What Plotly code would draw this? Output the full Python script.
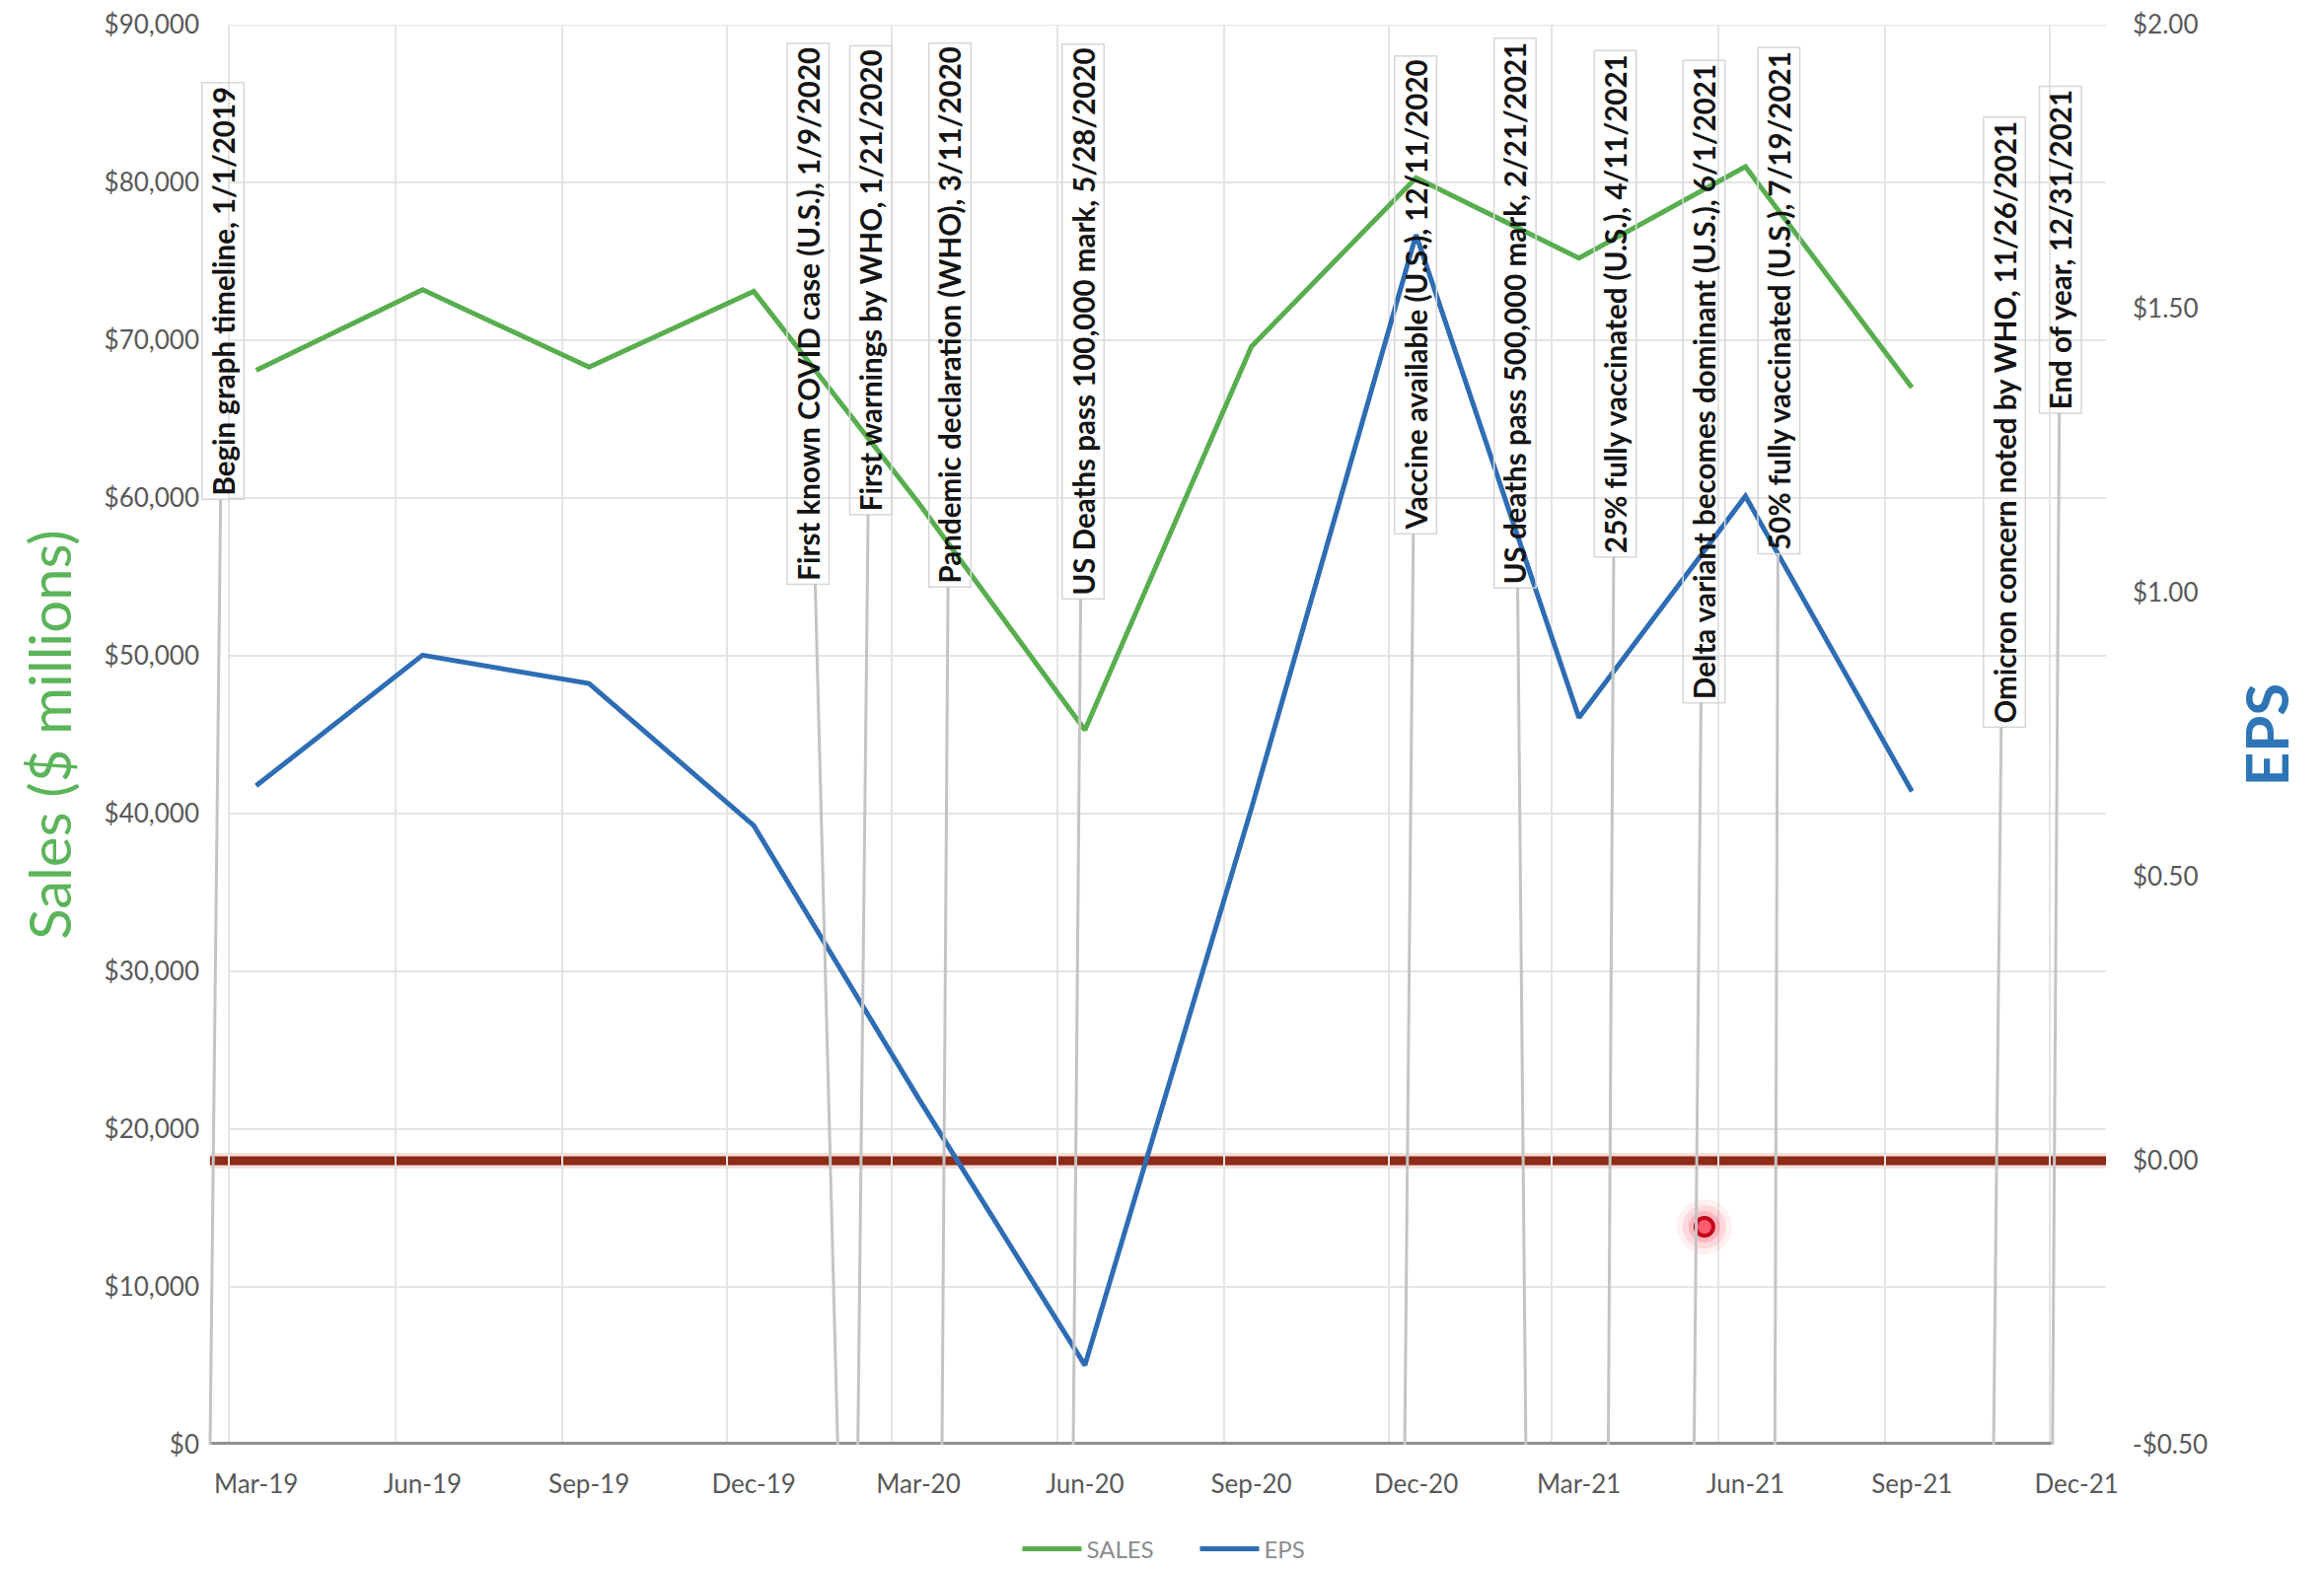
import pandas as pd
import plotly.graph_objects as go

# ---- quarterly results -------------------------------------------------
quarters = ["Mar-19", "Jun-19", "Sep-19", "Dec-19", "Mar-20", "Jun-20",
            "Sep-20", "Dec-20", "Mar-21", "Jun-21", "Sep-21"]
sales = [68100, 73200, 68300, 73100, 59700, 45300,
         69600, 80300, 75200, 81000, 67000]          # $ millions
eps = [0.66, 0.89, 0.84, 0.59, 0.11, -0.36,
       0.62, 1.63, 0.78, 1.17, 0.65]                 # $ per share

axis_quarters = quarters + ["Dec-21"]

sales_ticks = [0, 10000, 20000, 30000, 40000, 50000, 60000, 70000, 80000, 90000]
eps_ticks = [-0.5, 0.0, 0.5, 1.0, 1.5, 2.0]

# ---- COVID timeline events ----------------------------------------------
event_names = [
    "Begin graph timeline",
    "First known COVID case (U.S.)",
    "First warnings by WHO",
    "Pandemic declaration (WHO)",
    "US Deaths pass 100,000 mark",
    "Vaccine available (U.S.)",
    "US deaths pass 500,000 mark",
    "25% fully vaccinated (U.S.)",
    "Delta variant becomes dominant (U.S.)",
    "50% fully vaccinated (U.S.)",
    "Omicron concern noted by WHO",
    "End of year",
]
event_dates = ["1/1/2019", "1/9/2020", "1/21/2020", "3/11/2020", "5/28/2020",
               "12/11/2020", "2/21/2021", "4/11/2021", "6/1/2021", "7/19/2021",
               "11/26/2021", "12/31/2021"]
event_level = [0] * len(event_names)

# ---- derived positions ----------------------------------------------------
# each quarter label sits in the middle of its month slot
month_start = pd.to_datetime(axis_quarters, format="%b-%y")
slot_mid = month_start + pd.Timedelta(days=15)
q_dates = slot_mid[:len(quarters)]
grid_dates = list(month_start) + [pd.Timestamp("2022-01-01")]
ev_dates = pd.to_datetime(event_dates, format="%m/%d/%Y")

X_RANGE = ["2019-02-18 14:00", "2022-01-01 06:00"]
X2_RANGE = ["2019-01-01", "2022-01-31 19:12"]

FONT = "Lato"
GREEN = "#58AE4E"
BLUE = "#2E6DB4"
TICK = "#595959"
GRID = "#e4e4e4"

fig = go.Figure()

# timeline baseline connecting all the events
fig.add_trace(go.Scatter(
    x=ev_dates, y=event_level, xaxis="x2", yaxis="y", mode="lines",
    line=dict(color="#8f8f8f", width=6), showlegend=False, hoverinfo="skip"))

fig.add_trace(go.Scatter(
    x=q_dates, y=sales, name="SALES", mode="lines",
    line=dict(color=GREEN, width=5), xaxis="x", yaxis="y"))

fig.add_trace(go.Scatter(
    x=q_dates, y=eps, name="EPS", mode="lines",
    line=dict(color=BLUE, width=5), xaxis="x", yaxis="y2"))

# pixel offsets of each event call-out box from its date on the baseline
label_dx = [13, -30, 13, 8, 10, 11, -11, 7, 10, 4, 11, 8]
label_dy = [-1170, -1147, -1181, -1146, -1139, -1166, -1148, -1157, -1078, -1160, -1037, -1212]

annotations = []
for name, d_str, d, lvl, dx, dy in zip(event_names, event_dates, ev_dates,
                                       event_level, label_dx, label_dy):
    annotations.append(dict(
        x=d, y=lvl, xref="x2", yref="y",
        text=f"{name}, {d_str}", textangle=-90,
        showarrow=True, arrowhead=0, arrowwidth=3, arrowcolor="#c4c4c4",
        standoff=0, ax=dx, ay=dy, axref="pixel", ayref="pixel",
        font=dict(family=FONT, size=29.5, color="#141414", weight=700),
        bgcolor="rgba(255,255,255,0)", bordercolor="#d6d6d6",
        borderwidth=1.5, borderpad=3,
    ))

shapes = []
# horizontal sales gridlines, spanning the quarter slots only
for v in sales_ticks[1:]:
    shapes.append(dict(type="line", xref="x", yref="y",
                       x0=month_start[0], x1=X_RANGE[1], y0=v, y1=v,
                       line=dict(color=GRID, width=2), layer="below"))

# EPS break-even line with a soft glow
shapes += [
    dict(type="line", xref="paper", x0=0, x1=1, yref="y2", y0=0, y1=0,
         line=dict(color="rgba(235,120,90,0.22)", width=16), layer="between"),
    dict(type="line", xref="paper", x0=0, x1=1, yref="y2", y0=0, y1=0,
         line=dict(color="#8E2A18", width=9), layer="between"),
]

# red presenter pointer
px_, py_ = 0.7882, 0.1535
for r, fill in [(28, "rgba(255,70,90,0.08)"), (22, "rgba(255,70,90,0.14)"),
                (16, "rgba(255,70,90,0.22)")]:
    shapes.append(dict(type="circle", xref="paper", yref="paper",
                       xsizemode="pixel", ysizemode="pixel",
                       xanchor=px_, yanchor=py_, x0=-r, x1=r, y0=-r, y1=r,
                       fillcolor=fill, line=dict(width=0), layer="above"))
shapes.append(dict(type="circle", xref="paper", yref="paper",
                   xsizemode="pixel", ysizemode="pixel",
                   xanchor=px_, yanchor=py_, x0=-9, x1=9, y0=-9, y1=9,
                   fillcolor="#ff5c6c", line=dict(color="#c3001c", width=4),
                   layer="above"))

fig.update_layout(
    template="none",
    width=2356, height=1592,
    margin=dict(l=213, r=221, t=25, b=127, autoexpand=False),
    paper_bgcolor="white", plot_bgcolor="white",
    font=dict(family=FONT, color=TICK),
    showlegend=True,
    legend=dict(orientation="h", x=0.5195, xanchor="center", y=-0.0736,
                yanchor="middle", font=dict(size=24, color="#8c8c8c"),
                bgcolor="rgba(0,0,0,0)", itemwidth=60,
                entrywidth=105, entrywidthmode="pixels"),
    xaxis=dict(
        type="date", range=X_RANGE,
        tickmode="array", tickvals=list(slot_mid), ticktext=axis_quarters,
        showgrid=False, zeroline=False, showline=False, ticks="",
        ticklabelstandoff=22, tickfont=dict(size=26, color=TICK),
        minor=dict(tickmode="array", tickvals=grid_dates, showgrid=True,
                   gridcolor=GRID, gridwidth=2, ticks=""),
        automargin=False,
    ),
    xaxis2=dict(
        type="date", overlaying="x", side="top", anchor="y",
        range=X2_RANGE, visible=False, showgrid=False,
    ),
    yaxis=dict(
        range=[0, 90000], tickmode="array", tickvals=sales_ticks,
        ticktext=[f"${v:,.0f}" for v in sales_ticks],
        showgrid=False, zeroline=False, showline=False, ticks="",
        ticklabelstandoff=10, tickfont=dict(size=26, color=TICK),
        title=dict(text="Sales ($ millions)", standoff=14,
                   font=dict(size=58, color="#5CB45A", family=FONT)),
        automargin=False,
    ),
    yaxis2=dict(
        range=[-0.5, 2.0], overlaying="y", side="right", anchor="x",
        tickmode="array", tickvals=eps_ticks,
        ticktext=[(f"-${abs(v):.2f}" if v < 0 else f"${v:.2f}") for v in eps_ticks],
        showgrid=False, zeroline=False, showline=False, ticks="",
        ticklabelstandoff=26, tickfont=dict(size=26, color=TICK),
        title=dict(text="EPS", standoff=40,
                   font=dict(size=60, color="#2E75B6", family=FONT, weight=700)),
        automargin=False,
    ),
    annotations=annotations,
    shapes=shapes,
)

fig.write_html("out.html")
